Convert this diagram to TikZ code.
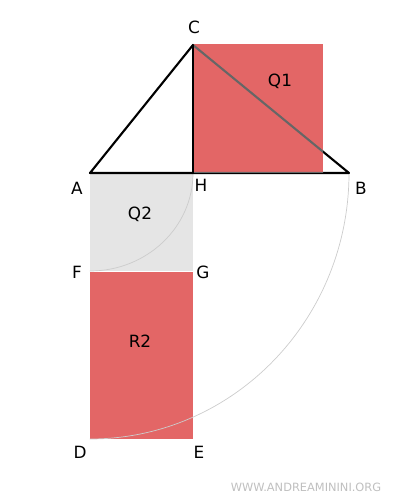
\documentclass[tikz,border=0pt]{standalone}
\usepackage{fontspec}
\setmainfont{DejaVu Sans}
\definecolor{qred}{HTML}{E36666}
\definecolor{qgray}{HTML}{E5E5E5}
\definecolor{arcgray}{HTML}{CCCCCC}
\tikzset{lbl/.style={font=\fontsize{12}{14}\selectfont,inner sep=0pt}}
\begin{document}
\begin{tikzpicture}[line cap=round,line join=round,x=2.5cm,y=2.5cm]
      \useasboundingbox (-0.90,1.73) rectangle (3.10,-3.27);
      \coordinate (A) at (0,0);
      \coordinate (H) at (1.03,0);
      \coordinate (B) at (2.59,0);
      \coordinate (C) at (1.03,1.28);
      \coordinate (F) at (0,-0.98);
      \coordinate (G) at (1.03,-0.98);
      \coordinate (D) at (0,-2.66);
      \coordinate (E) at (1.03,-2.66);
      \coordinate (K) at (2.33,1.29);

      % squares and rectangle
      \fill[qgray] (A) rectangle (G);
      \fill[qred] ([yshift=-0.6pt]F) rectangle (E);
      \draw[arcgray,line width=0.5pt] (H) arc[start angle=0,end angle=-90,x radius=1.03,y radius=0.98];
      \draw[arcgray,line width=0.5pt] (B) arc[start angle=0,end angle=-90,x radius=2.59,y radius=2.66];

      % triangle
      \draw[line width=1.5pt] (A)--(C)--(B)--cycle;
      \fill[qred] (H) rectangle (K);
      \begin{scope}
        \clip (H) rectangle (K);
        \draw[line width=1.5pt,black!60] (C)--(B)--(H);
      \end{scope}
      \draw[line width=1.5pt] (A)--(H) (C)--(H);

      % labels
      \node[lbl] (lC) at (1.04,1.46) {C};
      \node[lbl] (lA) at (-0.13,-0.15) {A};
      \node[lbl] (lH) at (1.11,-0.12) {H};
      \node[lbl] (lB) at (2.71,-0.15) {B};
      \node[lbl] (lQ1) at (1.90,0.92) {Q1};
      \node[lbl] (lQ2) at (0.50,-0.41) {Q2};
      \node[lbl] (lF) at (-0.13,-0.99) {F};
      \node[lbl] (lG) at (1.13,-0.99) {G};
      \node[lbl] (lR2) at (0.50,-1.68) {R2};
      \node[lbl] (lD) at (-0.10,-2.79) {D};
      \node[lbl] (lE) at (1.09,-2.79) {E};
      \node[font=\fontsize{8.1}{9}\selectfont,text=black!25,inner sep=0pt] (site) at (2.16,-3.14) {WWW.ANDREAMININI.ORG};
\end{tikzpicture}
\end{document}
